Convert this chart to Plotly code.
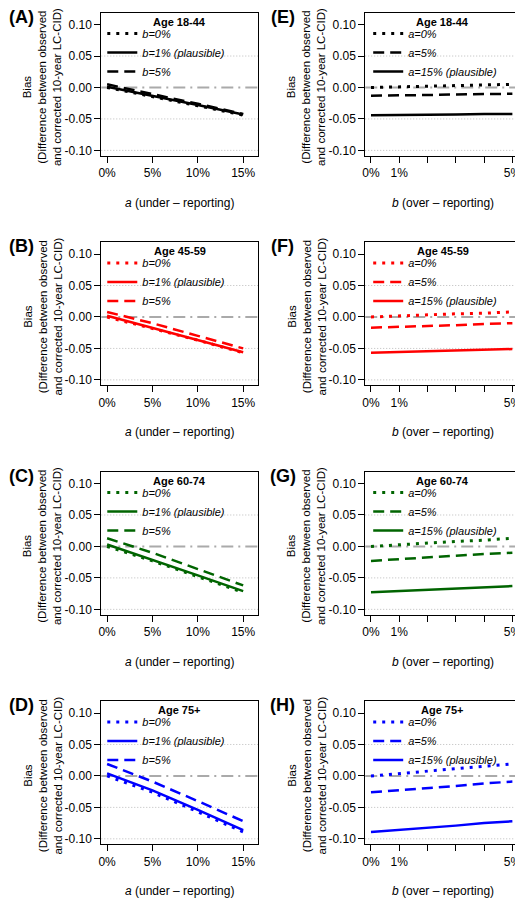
import plotly.graph_objects as go

FONT = "Liberation Sans, Arial, sans-serif"

# ---------------- data ----------------
A_VALUES = [0, 5, 10, 15]            # a, under-reporting (%)
B_VALUES = [0, 1, 2, 3, 4, 5]        # b, over-reporting (%)

A_TICKS = [0, 5, 10, 15]
A_TICKTEXT = ["0%", "5%", "10%", "15%"]
B_TICKS = [0, 1, 2, 3, 4, 5]
B_TICKTEXT = ["0%", "1%", "", "", "", "5%"]
Y_TICKS = [0.10, 0.05, 0.00, -0.05, -0.10]
Y_TICKTEXT = ["0.10", "0.05", "0.00", "-0.05", "-0.10"]
GRID_Y = [0.05, -0.05, -0.10]

AGE_GROUPS = ["Age 18-44", "Age 45-59", "Age 60-74", "Age 75+"]
LEFT_LABELS = ["(A)", "(B)", "(C)", "(D)"]
RIGHT_LABELS = ["(E)", "(F)", "(G)", "(H)"]
COLORS = ["#000000", "#FF0000", "#006400", "#0000FF"]

LEFT_NAMES = ["b=0%", "b=1% (plausible)", "b=5%"]
RIGHT_NAMES = ["a=0%", "a=5%", "a=15% (plausible)"]

# Bias vs a (left panels), one list per b
AGE1844_B0 = [0.000, -0.014, -0.029, -0.044]
AGE1844_B1 = [0.001, -0.013, -0.028, -0.043]
AGE1844_B5 = [0.005, -0.010, -0.026, -0.042]
AGE4559_B0 = [0.000, -0.018, -0.037, -0.057]
AGE4559_B1 = [0.002, -0.017, -0.036, -0.056]
AGE4559_B5 = [0.008, -0.010, -0.030, -0.050]
AGE6074_B0 = [0.000, -0.023, -0.048, -0.073]
AGE6074_B1 = [0.003, -0.021, -0.046, -0.071]
AGE6074_B5 = [0.013, -0.010, -0.036, -0.062]
AGE75_B0 = [0.000, -0.026, -0.057, -0.089]
AGE75_B1 = [0.004, -0.023, -0.054, -0.086]
AGE75_B5 = [0.019, -0.009, -0.040, -0.072]

# Bias vs b (right panels), one list per a
AGE1844_A0 = [0.000, 0.001, 0.002, 0.003, 0.004, 0.005]
AGE1844_A5 = [-0.013, -0.013, -0.012, -0.011, -0.011, -0.010]
AGE1844_A15 = [-0.044, -0.044, -0.043, -0.043, -0.042, -0.042]
AGE4559_A0 = [0.000, 0.002, 0.003, 0.005, 0.006, 0.008]
AGE4559_A5 = [-0.017, -0.016, -0.014, -0.013, -0.011, -0.010]
AGE4559_A15 = [-0.057, -0.056, -0.054, -0.053, -0.052, -0.051]
AGE6074_A0 = [0.000, 0.003, 0.005, 0.008, 0.010, 0.013]
AGE6074_A5 = [-0.023, -0.020, -0.017, -0.015, -0.012, -0.010]
AGE6074_A15 = [-0.073, -0.071, -0.069, -0.067, -0.065, -0.063]
AGE75_A0 = [0.000, 0.004, 0.008, 0.011, 0.015, 0.019]
AGE75_A5 = [-0.026, -0.023, -0.019, -0.016, -0.012, -0.009]
AGE75_A15 = [-0.089, -0.086, -0.082, -0.079, -0.075, -0.072]

LEFT_DATA = [
    [AGE1844_B0, AGE1844_B1, AGE1844_B5],
    [AGE4559_B0, AGE4559_B1, AGE4559_B5],
    [AGE6074_B0, AGE6074_B1, AGE6074_B5],
    [AGE75_B0, AGE75_B1, AGE75_B5],
]
RIGHT_DATA = [
    [AGE1844_A0, AGE1844_A5, AGE1844_A15],
    [AGE4559_A0, AGE4559_A5, AGE4559_A15],
    [AGE6074_A0, AGE6074_A5, AGE6074_A15],
    [AGE75_A0, AGE75_A5, AGE75_A15],
]

# ---------------- styles / layout ----------------
PAGE_OFF = 8                      # default body margin of the html page
W, H = 523 - PAGE_OFF, 900 - PAGE_OFF
DOT = "3px,6px"
DASH = "11px,6px"
LEFT_STYLES = [(DOT, 3), ("solid", 2.5), (DASH, 2.5)]
RIGHT_STYLES = [(DOT, 3), (DASH, 2.5), ("solid", 2.5)]

ROW_TOPS = [13, 243, 473, 703]
BOX_H = 143
COLS = [(99, 257), (365, 521)]
X_RANGES = [[-0.64, 16.64], [-0.204, 5.27]]
Y_RANGE = [-0.1084, 0.1184]


def px(xp):
    return (xp - PAGE_OFF) / W


def py(yp):
    return 1 - (yp - PAGE_OFF) / H


fig = go.Figure()
layout = dict(
    width=W, height=H,
    margin=dict(l=0, r=0, t=0, b=0),
    paper_bgcolor="white", plot_bgcolor="white",
    font=dict(family=FONT, size=12, color="black"),
    showlegend=True,
)
shapes = []
annotations = []

for r in range(4):
    top = ROW_TOPS[r]
    for c in range(2):
        k = r * 2 + c + 1
        xl, xr = COLS[c]
        xa = "xaxis" if k == 1 else f"xaxis{k}"
        ya = "yaxis" if k == 1 else f"yaxis{k}"
        xname = "x" if k == 1 else f"x{k}"
        yname = "y" if k == 1 else f"y{k}"
        lname = "legend" if k == 1 else f"legend{k}"
        axcommon = dict(showline=True, mirror=True, linecolor="black", linewidth=1,
                        ticks="outside", ticklen=6, tickwidth=1, tickcolor="black",
                        showgrid=False, zeroline=False, ticklabeloverflow="allow",
                        tickfont=dict(family=FONT, size=12, color="black"))
        layout[xa] = dict(axcommon, domain=[px(xl), px(xr)], anchor=yname,
                          range=X_RANGES[c],
                          tickvals=A_TICKS if c == 0 else B_TICKS,
                          ticktext=A_TICKTEXT if c == 0 else B_TICKTEXT)
        layout[ya] = dict(axcommon, domain=[py(top + BOX_H), py(top)], anchor=xname,
                          range=Y_RANGE, tickvals=Y_TICKS, ticktext=Y_TICKTEXT)

        # grid + zero reference
        for g in GRID_Y:
            shapes.append(dict(type="line", xref=f"{xname} domain", x0=0, x1=1,
                               yref=yname, y0=g, y1=g, layer="below",
                               line=dict(color="#BBBBBB", width=1, dash="1px,2px")))
        shapes.append(dict(type="line", xref=f"{xname} domain", x0=0, x1=1,
                           yref=yname, y0=0, y1=0, layer="below",
                           line=dict(color="#AAAAAA", width=2, dash="12px,5px,2px,5px")))

        # traces
        if c == 0:
            xs, series, names, styles = A_VALUES, LEFT_DATA[r], LEFT_NAMES, LEFT_STYLES
        else:
            xs, series, names, styles = B_VALUES, RIGHT_DATA[r], RIGHT_NAMES, RIGHT_STYLES
        for s, nm, (dsh, wd) in zip(series, names, styles):
            fig.add_trace(go.Scatter(x=xs, y=s, mode="lines", name=nm,
                                     line=dict(color=COLORS[r], width=wd, dash=dsh),
                                     xaxis=xname, yaxis=yname, legend=lname,
                                     hoverinfo="skip"))

        # legend
        lx = 100 if c == 0 else 368
        layout[lname] = dict(x=px(lx), y=py(top + 6), xanchor="left", yanchor="top",
                             xref="paper", yref="paper",
                             bgcolor="rgba(255,255,255,0)", borderwidth=0,
                             font=dict(family=FONT, size=11, color="black", style="italic"),
                             itemwidth=30, tracegroupgap=0)

        # age title
        annotations.append(dict(text=f"<b>{AGE_GROUPS[r]}</b>", xref=f"{xname} domain",
                                x=0.5, yref="paper", y=py(top + 9), showarrow=False,
                                xanchor="center", yanchor="middle",
                                font=dict(family=FONT, size=11, color="black")))
        # panel label
        lab = LEFT_LABELS[r] if c == 0 else RIGHT_LABELS[r]
        annotations.append(dict(text=f"<b>{lab}</b>", xref="paper",
                                x=px(19 if c == 0 else 282), yref="paper", y=py(top + 4),
                                showarrow=False, xanchor="center", yanchor="middle",
                                font=dict(family=FONT, size=18, color="black")))
        # x title
        xt = "<i>a</i> (under \u2013 reporting)" if c == 0 else "<i>b</i> (over \u2013 reporting)"
        annotations.append(dict(text=xt, xref="paper", x=px((xl + xr) / 2),
                                yref="paper", y=py(top + BOX_H + 47), showarrow=False,
                                xanchor="center", yanchor="middle",
                                font=dict(family=FONT, size=12, color="black")))
        # y title
        annotations.append(dict(text="Bias<br>(Difference between observed<br>and corrected 10-year LC-CID)",
                                xref="paper", x=px(xl - 59), yref="paper",
                                y=py(top + BOX_H / 2 + 3), showarrow=False, textangle=-90,
                                xanchor="center", yanchor="middle",
                                font=dict(family=FONT, size=11.5, color="black")))

layout["shapes"] = shapes
layout["annotations"] = annotations
fig.update_layout(**layout)
fig.write_html("out.html")
